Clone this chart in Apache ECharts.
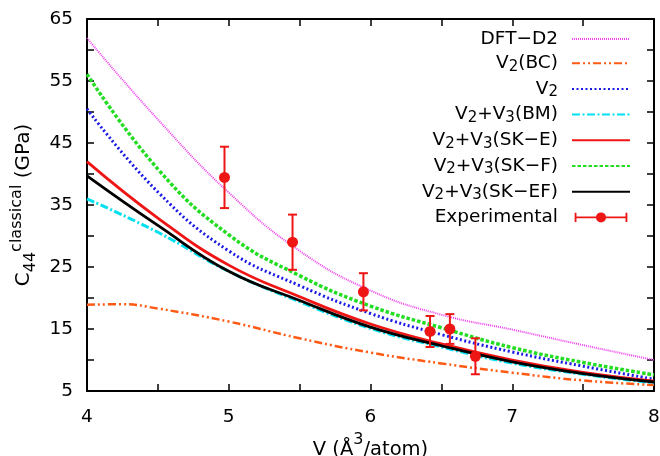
<!DOCTYPE html>
<html>
<head>
<meta charset="utf-8">
<script src="https://cdn.jsdelivr.net/npm/echarts@6/dist/echarts.min.js"></script>
<style>
html,body{margin:0;padding:0;background:#ffffff;}
#chart{width:660px;height:456px;}
</style>
</head>
<body>
<div id="chart"></div>
<script>
// ---- data ----
const volumes   = [4, 4.5, 5, 5.5, 6, 6.5, 7, 7.5, 8];
const dftD2     = [61.9, 48.8, 37.0, 27.6, 21.2, 17.3, 14.9, 12.4, 10.0];
const v2SKF     = [56.1, 40.8, 30.2, 23.6, 18.7, 15.2, 12.0, 9.6, 7.6];
const v2Only    = [50.5, 37.1, 27.6, 22.0, 17.5, 14.1, 11.3, 9.0, 6.9];
const v2SKE     = [42.0, 32.9, 25.3, 20.2, 15.8, 12.6, 10.0, 8.0, 6.6];
const v2SKEF    = [39.7, 31.7, 24.3, 19.6, 15.3, 12.3, 9.7, 7.8, 6.45];
const v2BM      = [36.0, 30.6, 24.3, 19.4, 15.1, 12.1, 9.5, 7.7, 6.3];
const volumesBC = [4, 4.25, 4.5, 5, 5.5, 6, 6.5, 7, 7.5, 8];
const v2BC      = [18.9, 19.0, 18.3, 16.2, 13.5, 11.2, 9.45, 7.95, 6.7, 5.95];
const expV      = [4.97, 5.45, 5.95, 6.42, 6.56, 6.74];
const expC      = [39.45, 29.0, 21.0, 14.6, 15.0, 10.6];
const expErr    = [4.95, 4.45, 3.0, 2.5, 2.4, 2.9];
const xTickLabels = ['4', '5', '6', '7', '8'];
const yTickLabels = ['5', '15', '25', '35', '45', '55', '65'];
const seriesNames = ['DFT-D2', 'V2(BC)', 'V2', 'V2+V3(BM)', 'V2+V3(SK-E)', 'V2+V3(SK-F)', 'V2+V3(SK-EF)', 'Experimental'];
const legendLabels = {
  'DFT-D2': '{n|DFT\u2212D2}',
  'V2(BC)': '{n|V}{s|2}{n|(BC)}',
  'V2': '{n|V}{s|2}',
  'V2+V3(BM)': '{n|V}{s|2}{n|+V}{s|3}{n|(BM)}',
  'V2+V3(SK-E)': '{n|V}{s|2}{n|+V}{s|3}{n|(SK\u2212E)}',
  'V2+V3(SK-F)': '{n|V}{s|2}{n|+V}{s|3}{n|(SK\u2212F)}',
  'V2+V3(SK-EF)': '{n|V}{s|2}{n|+V}{s|3}{n|(SK\u2212EF)}',
  'Experimental': '{n|Experimental}'
};

const FONT = "'DejaVu Sans', 'Liberation Sans', Arial, sans-serif";
const RED = '#ee1515';

function pairs(xs, ys) { return xs.map((x, i) => [x, ys[i]]); }
function curve(name, xs, ys, color, width, dash, z) {
  return {
    type: 'line', name: name, data: pairs(xs, ys), symbol: 'none',
    smooth: 0.45, z: z,
    lineStyle: { color: color, width: width, type: dash, cap: 'butt' },
    itemStyle: { color: color }, emphasis: { disabled: true }
  };
}

const chart = echarts.init(document.getElementById('chart'), null, { renderer: 'canvas' });

const expIcon = 'path://M0,0 L2,0 L2,10 L0,10 Z M56,0 L58,0 L58,10 L56,10 Z M0,4 L58,4 L58,6 L0,6 Z M23.5,5 A5.5,5.5 0 1,1 34.5,5 A5.5,5.5 0 1,1 23.5,5 Z';

const axisCommon = {
  axisLine: { show: true, onZero: false, lineStyle: { color: '#000', width: 2 } },
  axisTick: { show: true, inside: true, length: 7, lineStyle: { color: '#000', width: 1.5 } },
  splitLine: { show: false }
};

const option = {
  animation: false,
  backgroundColor: '#ffffff',
  textStyle: { fontFamily: FONT },
  grid: { left: 87, right: 6, top: 19, bottom: 65, containLabel: false, outerBoundsMode: 'none' },
  legend: {
    orient: 'vertical', right: 29, top: 29.5, padding: 0,
    align: 'right', itemWidth: 58, itemHeight: 10, itemGap: 5.2,
    selectedMode: false,
    itemStyle: { opacity: 0 },
    data: seriesNames.map(n => n === 'Experimental'
      ? { name: n, icon: expIcon, itemStyle: { color: RED, borderWidth: 0, opacity: 1 } }
      : { name: n }),
    formatter: name => legendLabels[name],
    textStyle: {
      color: '#000', fontFamily: FONT, padding: [0, 9, 0, 0],
      rich: {
        n: { fontSize: 18.5, lineHeight: 22, color: '#000', fontFamily: FONT },
        s: { fontSize: 15, lineHeight: 7, verticalAlign: 'bottom', color: '#000', fontFamily: FONT }
      }
    }
  },
  xAxis: [
    Object.assign({}, axisCommon, {
      type: 'value', position: 'bottom', min: 4, max: 8, interval: 0.5,
      name: '{c|V (\u00c5}{sp|3}{c|/atom)}', nameLocation: 'middle', nameGap: 34,
      nameTextStyle: {
        rich: {
          c: { fontSize: 19.5, lineHeight: 36, color: '#000', fontFamily: FONT },
          sp: { fontSize: 16, lineHeight: 9, verticalAlign: 'top', color: '#000', fontFamily: FONT }
        }
      },
      axisLabel: {
        show: true, margin: 17, color: '#000', fontSize: 18.5, fontFamily: FONT,
        formatter: v => (xTickLabels.indexOf(String(v)) >= 0 ? String(v) : '')
      }
    }),
    Object.assign({}, axisCommon, {
      type: 'value', position: 'top', min: 4, max: 8, interval: 0.5,
      axisLabel: { show: false }
    })
  ],
  yAxis: [
    Object.assign({}, axisCommon, {
      type: 'value', position: 'left', min: 5, max: 65, interval: 5,
      name: '{c|C}{sb|44}{sp|classical}{c| (GPa)}', nameLocation: 'middle', nameGap: 46, nameRotate: 90,
      nameTextStyle: {
        rich: {
          c: { fontSize: 20, lineHeight: 30, color: '#000', fontFamily: FONT },
          sb: { fontSize: 16, lineHeight: 17, verticalAlign: 'bottom', color: '#000', fontFamily: FONT },
          sp: { fontSize: 16, lineHeight: 15, verticalAlign: 'top', color: '#000', fontFamily: FONT }
        }
      },
      axisLabel: {
        show: true, margin: 14, color: '#000', fontSize: 18.5, fontFamily: FONT,
        formatter: v => (yTickLabels.indexOf(String(v)) >= 0 ? String(v) : '')
      }
    }),
    Object.assign({}, axisCommon, {
      type: 'value', position: 'right', min: 5, max: 65, interval: 5,
      axisLabel: { show: false }
    })
  ],
  series: [
    curve('DFT-D2', volumes, dftD2, '#ee44ee', 2, [1, 1], 2),
    curve('V2(BC)', volumesBC, v2BC, '#ff5a14', 2.5, [8, 3, 2, 3, 2, 3], 3),
    curve('V2', volumes, v2Only, '#1a1ae6', 3, [2, 2.5], 4),
    curve('V2+V3(BM)', volumes, v2BM, '#00e0f0', 3, [8, 2.5, 2, 2.5], 5),
    curve('V2+V3(SK-E)', volumes, v2SKE, '#ee1515', 2.8, 'solid', 6),
    curve('V2+V3(SK-F)', volumes, v2SKF, '#22dd22', 3.5, [3.5, 2], 7),
    curve('V2+V3(SK-EF)', volumes, v2SKEF, '#000000', 2.8, 'solid', 8),
    {
      type: 'custom', name: 'Experimental', z: 9,
      data: expV.map((v, i) => [v, expC[i], expErr[i]]),
      itemStyle: { color: RED },
      renderItem: function (params, api) {
        const x = api.value(0), y = api.value(1), e = api.value(2);
        const top = api.coord([x, y + e]);
        const bot = api.coord([x, y - e]);
        const w = 4.5;
        const st = { stroke: RED, lineWidth: 2 };
        return {
          type: 'group',
          children: [
            { type: 'line', shape: { x1: top[0], y1: top[1], x2: bot[0], y2: bot[1] }, style: st },
            { type: 'line', shape: { x1: top[0] - w, y1: top[1], x2: top[0] + w, y2: top[1] }, style: st },
            { type: 'line', shape: { x1: bot[0] - w, y1: bot[1], x2: bot[0] + w, y2: bot[1] }, style: st }
          ]
        };
      }
    },
    {
      type: 'scatter', name: 'Experimental', z: 10,
      data: pairs(expV, expC), symbol: 'circle', symbolSize: 11,
      itemStyle: { color: RED, opacity: 1 }, emphasis: { disabled: true }
    }
  ]
};
chart.setOption(option);
</script>
</body>
</html>
